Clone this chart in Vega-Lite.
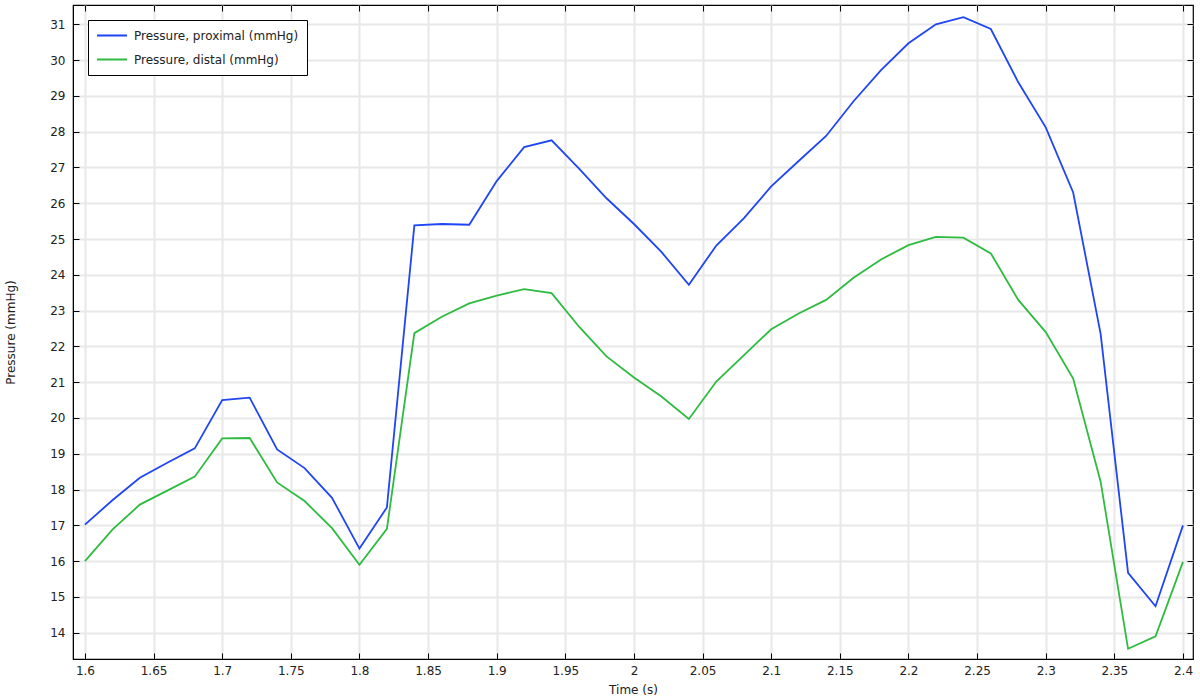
{
  "$schema": "https://vega.github.io/schema/vega-lite/v6.json",
  "width": 1120,
  "height": 654,
  "autosize": {"type": "none"},
  "padding": {"left": 73, "top": 5, "right": 7, "bottom": 41},
  "background": "white",
  "config": {
    "font": "DejaVu Sans",
    "view": {"stroke": "black", "strokeWidth": 1.2},
    "axis": {"labelFont": "DejaVu Sans", "titleFont": "DejaVu Sans", "labelFontSize": 12, "titleFontSize": 12, "titleFontWeight": "normal", "labelColor": "#222", "titleColor": "#222", "domainColor": "black", "tickColor": "black"}
  },
  "datasets": {
    "p": [
      {"t":1.60,"a":17.02,"b":16.0},
      {"t":1.62,"a":17.7,"b":16.88},
      {"t":1.64,"a":18.33,"b":17.58},
      {"t":1.66,"a":18.75,"b":17.97},
      {"t":1.68,"a":19.15,"b":18.36},
      {"t":1.70,"a":20.5,"b":19.43},
      {"t":1.72,"a":20.57,"b":19.44},
      {"t":1.74,"a":19.12,"b":18.2},
      {"t":1.76,"a":18.6,"b":17.68},
      {"t":1.78,"a":17.77,"b":16.92},
      {"t":1.80,"a":16.35,"b":15.9},
      {"t":1.82,"a":17.5,"b":16.9},
      {"t":1.84,"a":25.38,"b":22.37},
      {"t":1.86,"a":25.42,"b":22.83},
      {"t":1.88,"a":25.4,"b":23.2},
      {"t":1.90,"a":26.62,"b":23.42},
      {"t":1.92,"a":27.57,"b":23.6},
      {"t":1.94,"a":27.76,"b":23.49},
      {"t":1.96,"a":26.97,"b":22.55},
      {"t":1.98,"a":26.14,"b":21.72},
      {"t":2.00,"a":25.42,"b":21.13},
      {"t":2.02,"a":24.64,"b":20.6},
      {"t":2.04,"a":23.72,"b":19.97},
      {"t":2.06,"a":24.82,"b":21.02},
      {"t":2.08,"a":25.58,"b":21.75},
      {"t":2.10,"a":26.47,"b":22.48},
      {"t":2.12,"a":27.18,"b":22.92},
      {"t":2.14,"a":27.88,"b":23.3},
      {"t":2.16,"a":28.85,"b":23.92},
      {"t":2.18,"a":29.72,"b":24.43},
      {"t":2.20,"a":30.47,"b":24.83},
      {"t":2.22,"a":31.0,"b":25.06},
      {"t":2.24,"a":31.2,"b":25.04},
      {"t":2.26,"a":30.87,"b":24.6},
      {"t":2.28,"a":29.38,"b":23.3},
      {"t":2.30,"a":28.12,"b":22.4},
      {"t":2.32,"a":26.3,"b":21.1},
      {"t":2.34,"a":22.35,"b":18.22},
      {"t":2.36,"a":15.67,"b":13.55},
      {"t":2.38,"a":14.74,"b":13.9},
      {"t":2.40,"a":17.0,"b":15.98}
    ]
  },
  "data": {"name": "p"},
  "transform": [
    {"fold": ["a", "b"], "as": ["k", "v"]},
    {"lookup": "k", "from": {"data": {"values": [{"k": "a", "s": "Pressure, proximal (mmHg)"}, {"k": "b", "s": "Pressure, distal (mmHg)"}]}, "key": "k", "fields": ["s"]}}
  ],
  "layer": [
    {
      "mark": {"type": "line", "strokeWidth": 1.8},
      "encoding": {
        "x": {"field": "t", "type": "quantitative", "scale": {"domain": [1.5913, 2.4073], "nice": false, "zero": false},
              "axis": {"orient": "bottom", "title": "Time (s)", "values": [1.6,1.65,1.7,1.75,1.8,1.85,1.9,1.95,2.0,2.05,2.1,2.15,2.2,2.25,2.3,2.35,2.4], "format": "~g", "tickSize": -6, "labelPadding": 12, "titlePadding": 8, "gridColor": "#e8e8e8", "gridWidth": 2, "labelFlush": false}},
        "y": {"field": "v", "type": "quantitative", "scale": {"domain": [13.265, 31.54], "nice": false, "zero": false},
              "axis": {"orient": "left", "title": "Pressure (mmHg)", "values": [14,15,16,17,18,19,20,21,22,23,24,25,26,27,28,29,30,31], "tickSize": -6, "labelPadding": 14, "titlePadding": 32, "gridColor": "#e8e8e8", "gridWidth": 2}},
        "color": {"field": "s", "type": "nominal",
                  "scale": {"domain": ["Pressure, proximal (mmHg)", "Pressure, distal (mmHg)"], "range": ["#1f45f5", "#2fbb40"]},
                  "legend": {"title": null, "orient": "none", "legendX": 15, "legendY": 15, "symbolType": "stroke", "symbolSize": 900, "symbolStrokeWidth": 2, "labelFontSize": 12, "labelFont": "DejaVu Sans", "labelColor": "#222", "labelLimit": 400, "fillColor": "white", "strokeColor": "black", "padding": 8, "rowPadding": 9, "clipHeight": 15, "labelOffset": 6}}
      }
    },
    {
      "mark": {"type": "line", "opacity": 0},
      "encoding": {
        "x": {"field": "t", "type": "quantitative", "axis": {"orient": "top", "title": null, "labels": false, "grid": false, "domain": false, "values": [1.6,1.65,1.7,1.75,1.8,1.85,1.9,1.95,2.0,2.05,2.1,2.15,2.2,2.25,2.3,2.35,2.4], "tickSize": -6}},
        "y": {"field": "v", "type": "quantitative", "axis": {"orient": "right", "title": null, "labels": false, "grid": false, "domain": false, "values": [14,15,16,17,18,19,20,21,22,23,24,25,26,27,28,29,30,31], "tickSize": -6}},
        "detail": {"field": "s", "type": "nominal"}
      }
    }
  ],
  "resolve": {"axis": {"x": "independent", "y": "independent"}}
}
